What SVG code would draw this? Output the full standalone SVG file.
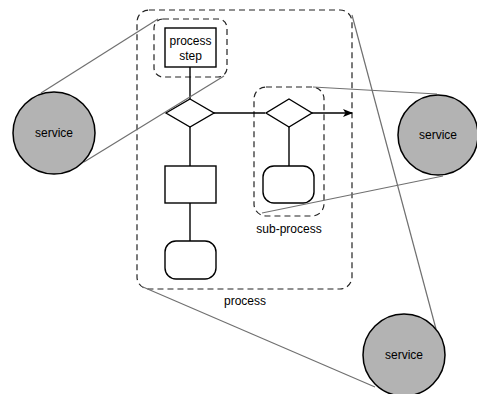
<svg xmlns="http://www.w3.org/2000/svg" width="477" height="394" viewBox="0 0 477 394">
<style>
.grp{fill:none;stroke:#222;stroke-width:1.2;stroke-dasharray:6,4}
.shape{fill:#fff;stroke:#000;stroke-width:1.4}
.edge{fill:none;stroke:#000;stroke-width:1.4}
.proj{fill:none;stroke:#707070;stroke-width:1.2}
.svc{fill:#b3b3b3;stroke:#000;stroke-width:1.5}
text{font-family:"Liberation Sans",Arial,sans-serif;font-size:12px;fill:#000;text-anchor:middle}
</style>
<defs>
<marker id="arr" markerWidth="10" markerHeight="8" refX="9" refY="4" orient="auto" markerUnits="userSpaceOnUse">
<path d="M0,0 L10,4 L0,8 L2.5,4 Z" fill="#000"/>
</marker>
</defs>
<rect width="477" height="394" fill="#fff"/>
<g id="process">
<rect class="grp" x="137" y="10" width="215" height="279" rx="12"/>
<text x="245" y="305">process</text>
</g>
<g id="step-group">
<rect class="grp" x="154" y="19" width="73" height="58" rx="9"/>
</g>
<g id="sub-process">
<rect class="grp" x="254" y="87" width="70" height="129" rx="12"/>
<text x="289" y="233">sub-process</text>
</g>
<g id="connectors">
<line class="edge" x1="190" y1="67" x2="190" y2="99"/>
<line class="edge" x1="190" y1="127" x2="190" y2="166"/>
<line class="edge" x1="190" y1="203" x2="190" y2="241"/>
<line class="edge" x1="214" y1="113" x2="265" y2="113"/>
<line class="edge" x1="289" y1="127" x2="289" y2="166"/>
<line class="edge" x1="312" y1="113" x2="352" y2="113" marker-end="url(#arr)"/>
</g>
<g id="process-step">
<rect class="shape" x="165" y="28" width="51" height="39"/>
<text x="190.5" y="45">process</text>
<text x="190.5" y="60">step</text>
</g>
<g id="decision1">
<path class="shape" d="M190,99 L214,113 L190,127 L166,113 Z"/>
</g>
<g id="decision2">
<path class="shape" d="M289,99 L312,113 L289,127 L266,113 Z"/>
</g>
<g id="task">
<rect class="shape" x="165" y="166" width="51" height="37"/>
</g>
<g id="end1">
<rect class="shape" x="165" y="241" width="51" height="38" rx="11"/>
</g>
<g id="end2">
<rect class="shape" x="263" y="166" width="51" height="37" rx="11"/>
</g>
<g id="projections">
<line class="proj" x1="41" y1="93" x2="158" y2="19"/>
<line class="proj" x1="84" y1="162" x2="224" y2="76"/>
<line class="proj" x1="313" y1="87" x2="437" y2="94"/>
<line class="proj" x1="262" y1="213" x2="443" y2="176"/>
<line class="proj" x1="352" y1="15" x2="436" y2="329"/>
<line class="proj" x1="143" y1="287" x2="375" y2="387"/>
</g>
<g id="service-left">
<circle class="svc" cx="54" cy="133" r="41"/>
<text x="54" y="137">service</text>
</g>
<g id="service-right">
<circle class="svc" cx="438" cy="135" r="40"/>
<text x="438" y="139">service</text>
</g>
<g id="service-bottom">
<circle class="svc" cx="404" cy="355" r="41"/>
<text x="404" y="359">service</text>
</g>
</svg>
